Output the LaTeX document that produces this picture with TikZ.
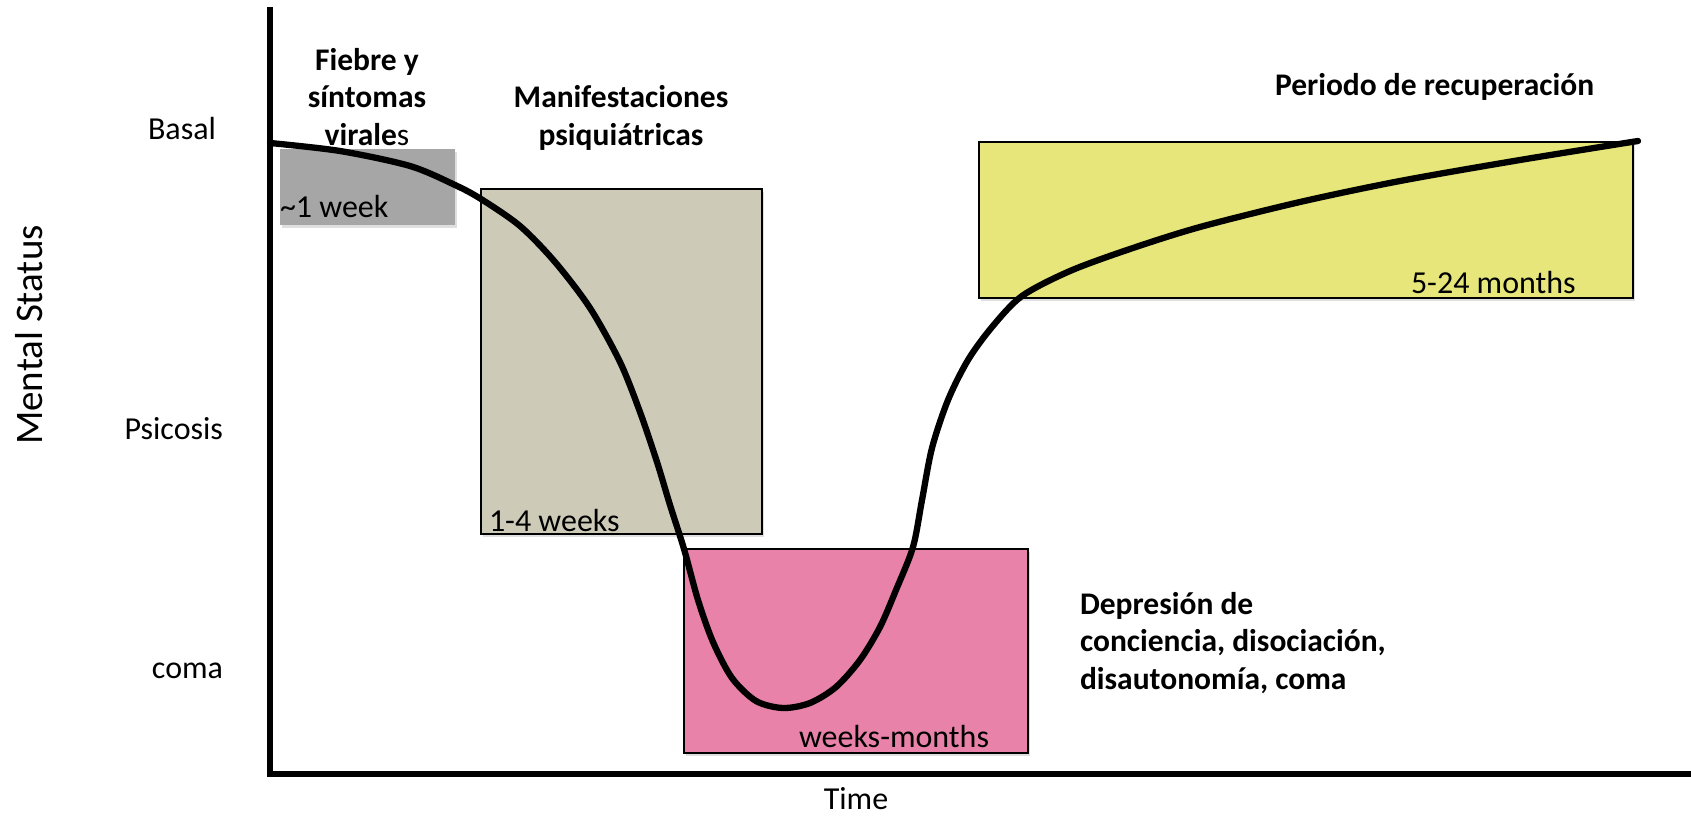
\documentclass[tikz,border=0pt]{standalone}
\usepackage{fontspec}
\setmainfont{Carlito}
\usetikzlibrary{shadows}
\definecolor{boxgray}{RGB}{166,166,166}
\definecolor{boxtan}{RGB}{205,203,184}
\definecolor{boxpink}{RGB}{232,130,168}
\definecolor{boxyellow}{RGB}{230,230,122}
\begin{document}
\begin{tikzpicture}[x=1pt,y=-1pt,
  lbl/.style={font=\fontsize{32}{38}\selectfont, inner sep=0pt, outer sep=0pt},
  blbl/.style={font=\fontsize{31.5}{37.5}\selectfont\bfseries, inner sep=0pt, outer sep=0pt},
  shbox/.style={inner sep=0pt, outer sep=0pt,
    drop shadow={shadow xshift=1.5pt, shadow yshift=-2.5pt, opacity=0.25}},
  framed/.style={shbox, draw=black, line width=1.3pt},
  axis/.style={line width=5.5pt, line join=miter},
  curve/.style={line width=6.3pt, line cap=round, line join=round}]
\useasboundingbox (0,0) rectangle (1691,816);

% boxes
\node[shbox, fill=boxgray, minimum width=175pt, minimum height=76pt] (fever) at (367.5,187) {};
\node[framed, fill=boxtan, minimum width=281pt, minimum height=345pt] (psych) at (621.5,361.5) {};
\node[framed, fill=boxpink, minimum width=344pt, minimum height=204pt] (coma) at (856,651) {};
\node[framed, fill=boxyellow, minimum width=654pt, minimum height=156pt] (recov) at (1306,220) {};

% box labels
\node[lbl, anchor=base west] (t1) at (280,217) {\symbol{"7E}1 week};
\node[lbl, anchor=base west] (t2) at (489,531) {1-4 weeks};
\node[lbl, anchor=base west] (t3) at (799,747) {weeks-months};
\node[lbl, anchor=base west] (t4) at (1411,293) {5-24 months};

% axes
\coordinate (ytop) at (270,7);
\coordinate (xend) at (1691,774);
\draw[axis] (ytop) |- (xend);

% curve
\draw[curve] plot[smooth, tension=0.5] coordinates {
  (270,143) (340,151) (410,166) (455,185) (481,199) (520,226) (555,262)
  (590,308) (620,362) (640,412) (657,462) (670,505) (684,549) (698,600)
  (713,642) (732,678) (756,701) (783,708) (810,703) (836,687) (860,660)
  (880,627) (896,590) (913,547) (922,500) (932,448) (948,400) (968,360)
  (992,327) (1022,296) (1070,271) (1130,249) (1200,227) (1300,202)
  (1400,181) (1520,160) (1638,141)};

% headings
\node[blbl, align=center, anchor=base] (h1) at (367,145) {Fiebre y\\síntomas\\\textbf{virale}\mdseries s};
\node[blbl, align=center, anchor=base] (h2) at (621,145) {Manifestaciones\\psiquiátricas};
\node[blbl, align=left, anchor=base west] (h3) at (1080,689) {Depresión de\\conciencia, disociación,\\disautonomía, coma};
\node[blbl, anchor=base west] (h4) at (1275,95) {Periodo de recuperación};

% y levels
\node[lbl, anchor=base east] (basal) at (216,139) {Basal};
\node[lbl, anchor=base east] (psic) at (223,439) {Psicosis};
\node[lbl, anchor=base east] (comal) at (223,678) {coma};
\node[font=\fontsize{39}{45}\selectfont, inner sep=0pt, rotate=90, anchor=base] (ylab) at (42,335) {Mental Status};
\node[lbl, anchor=base] (xlab) at (856,809) {Time};
\end{tikzpicture}
\end{document}
